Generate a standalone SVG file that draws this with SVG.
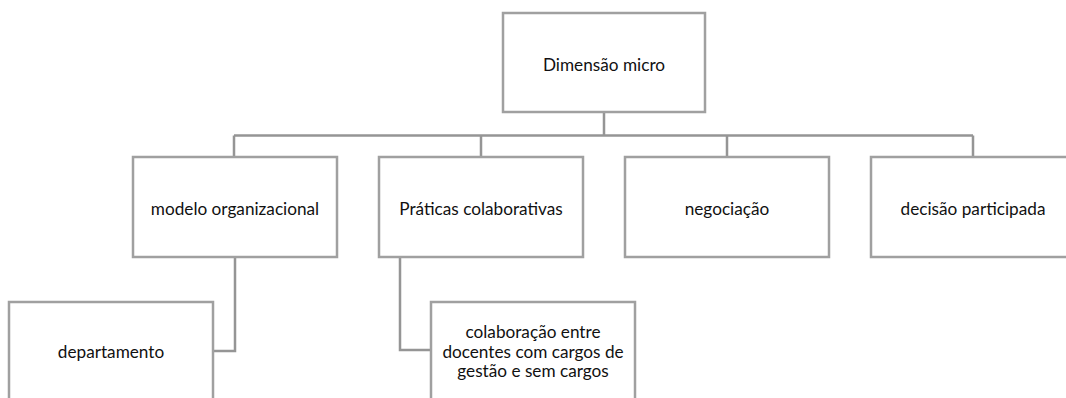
<svg xmlns="http://www.w3.org/2000/svg" width="1066" height="398" viewBox="0 0 1066 398">
<style>
.box{fill:#fff;stroke:#a0a0a0;stroke-width:2.5}
.con{fill:none;stroke:#959595;stroke-width:2.5}
text{font-family:Lato,"Open Sans",sans-serif;font-size:17.2px;fill:#111;text-anchor:middle}
</style>
<rect width="1066" height="398" fill="#fff"/>
<g id="connectors">
<path class="con" d="M604,112V135.5M234,135.5H973M234,135.5V157M481,135.5V157M727,135.5V157M973,135.5V157"/>
<path class="con" d="M235,257V351H213"/>
<path class="con" d="M400,257V350H431"/>
</g>
<g id="n-dimensao"><rect class="box" x="503" y="13" width="202" height="99"/><text x="604" y="71">Dimensão micro</text></g>
<g id="n-modelo"><rect class="box" x="133" y="157" width="204" height="100"/><text x="235" y="215">modelo organizacional</text></g>
<g id="n-praticas"><rect class="box" x="379" y="157" width="204" height="100"/><text x="481" y="215">Práticas colaborativas</text></g>
<g id="n-negociacao"><rect class="box" x="625" y="157" width="204" height="100"/><text x="727" y="215">negociação</text></g>
<g id="n-decisao"><rect class="box" x="871" y="157" width="204" height="100"/><text x="973" y="215">decisão participada</text></g>
<g id="n-departamento"><rect class="box" x="9" y="302" width="204" height="100"/><text x="111" y="358">departamento</text></g>
<g id="n-colaboracao"><rect class="box" x="431" y="302" width="204" height="100"/><text x="533" y="338">colaboração entre</text><text x="533" y="357.5">docentes com cargos de</text><text x="533" y="377">gestão e sem cargos</text></g>
</svg>
